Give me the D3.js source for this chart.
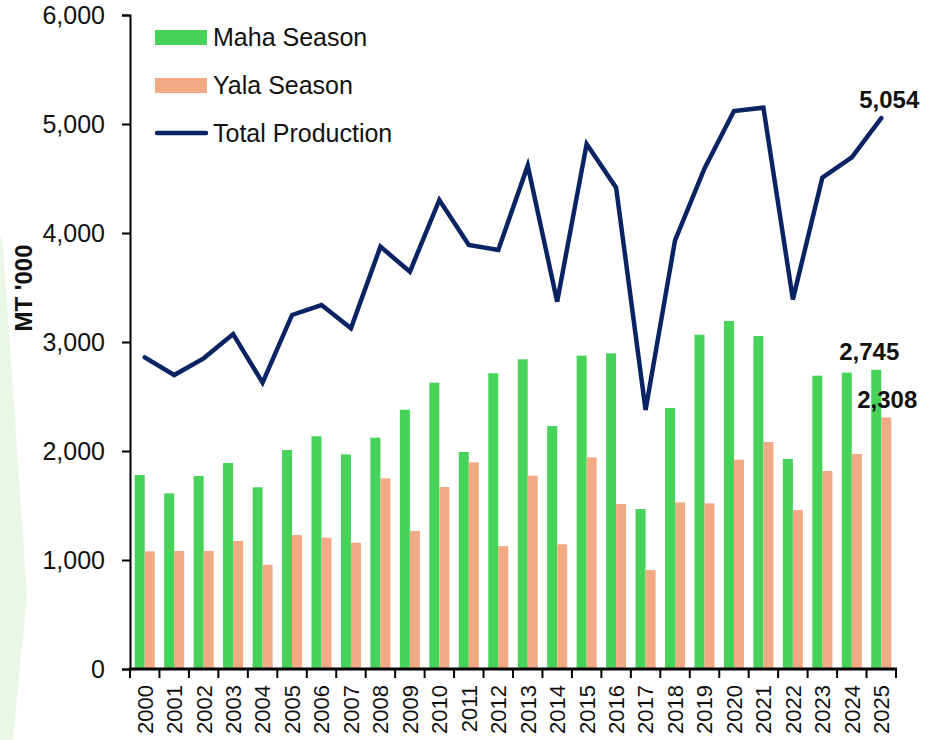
<!DOCTYPE html>
<html>
<head>
<meta charset="utf-8">
<script src="https://cdn.jsdelivr.net/npm/d3@7"></script>
<style>
  body { margin: 0; background: #fff; }
  svg { display: block; font-family: "Liberation Sans", Arial, sans-serif; }
</style>
</head>
<body>
<div id="chart"></div>
<script>
// data (MT '000)
var years = ["2000","2001","2002","2003","2004","2005","2006","2007","2008","2009",
  "2010","2011","2012","2013","2014","2015","2016","2017","2018","2019",
  "2020","2021","2022","2023","2024","2025"];
var maha = [1780,1612,1771,1890,1667,2009,2135,1969,2122,2379,
  2627,1991,2713,2841,2229,2875,2896,1468,2395,3067,
  3193,3055,1927,2691,2719,2745];
var yala = [1080,1083,1083,1174,957,1229,1205,1159,1749,1266,
  1670,1896,1128,1774,1144,1942,1514,908,1529,1520,
  1920,2083,1459,1817,1972,2308];
var total = [2859,2697,2850,3073,2627,3248,3339,3125,3875,3645,
  4303,3890,3844,4618,3370,4817,4416,2376,3932,4593,
  5119,5150,3391,4508,4694,5054];
var yTicks = [0,1000,2000,3000,4000,5000,6000];
var seriesNames = ["Maha Season","Yala Season","Total Production"];

var width = 925, height = 740;
var colors = { maha: "#47d35a", yala: "#f2aa85", total: "#0a2463" };

var svg = d3.select("#chart").append("svg")
  .attr("width", width)
  .attr("height", height);

// faint decoration on the left edge
svg.append("polygon")
  .attr("points", "0,235 3,245 27,595 13,740 0,740")
  .attr("fill", "#eaf6e6");

var x = d3.scaleBand().domain(years).range([130, 896]).padding(0);
var xs = d3.scaleBand().domain(["maha","yala"]).range([0, x.bandwidth()])
  .paddingInner(0).paddingOuter(0.47);
var y = d3.scaleLinear().domain([0, 6000]).range([669, 15]);

var rows = years.map(function(yr, i) {
  return { year: yr, maha: maha[i], yala: yala[i], total: total[i] };
});

// bars
var groups = svg.append("g").selectAll("g")
  .data(rows)
  .enter().append("g")
  .attr("transform", d => `translate(${x(d.year)},0)`);

["maha","yala"].forEach(function(key) {
  groups.append("rect")
    .attr("x", xs(key))
    .attr("width", xs.bandwidth())
    .attr("y", d => y(d[key]))
    .attr("height", d => y(0) - y(d[key]))
    .attr("fill", colors[key]);
});

// total line
var line = d3.line()
  .x(d => x(d.year) + x.bandwidth() / 2)
  .y(d => y(d.total));

svg.append("path")
  .datum(rows)
  .attr("d", line)
  .attr("fill", "none")
  .attr("stroke", colors.total)
  .attr("stroke-width", 4.5)
  .attr("stroke-linejoin", "miter")
  .attr("stroke-linecap", "round");

// y axis
var yAxis = d3.axisLeft(y)
  .tickValues(yTicks)
  .tickFormat(d3.format(","))
  .tickSize(8)
  .tickPadding(17);

var yg = svg.append("g")
  .attr("transform", "translate(130,0)")
  .call(yAxis);
yg.select(".domain").attr("stroke", "#000").attr("stroke-width", 2);
yg.selectAll(".tick line").attr("stroke", "#000").attr("stroke-width", 2);
yg.selectAll(".tick text")
  .attr("font-family", "Liberation Sans, Arial, sans-serif")
  .attr("font-size", 25)
  .attr("fill", "#111");

// x axis: baseline + ticks at category boundaries
var xg = svg.append("g");
xg.append("line")
  .attr("x1", x.range()[0] - 1).attr("x2", x.range()[1] + 1)
  .attr("y1", y(0)).attr("y2", y(0))
  .attr("stroke", "#000").attr("stroke-width", 3);

var bounds = years.map(d => x(d)).concat([x.range()[1]]);
xg.selectAll("line.tk")
  .data(bounds)
  .enter().append("line")
  .attr("class", "tk")
  .attr("x1", d => d).attr("x2", d => d)
  .attr("y1", y(0)).attr("y2", y(0) + 9)
  .attr("stroke", "#000").attr("stroke-width", 2);

xg.selectAll("text")
  .data(years)
  .enter().append("text")
  .attr("transform", d => `translate(${x(d) + x.bandwidth() / 2},685) rotate(-90)`)
  .attr("dy", "0.36em")
  .attr("text-anchor", "end")
  .attr("font-size", 22)
  .attr("fill", "#111")
  .text(d => d);

// y axis title
svg.append("text")
  .attr("transform", "translate(32,288) rotate(-90)")
  .attr("text-anchor", "middle")
  .attr("font-size", 24)
  .attr("font-weight", "bold")
  .attr("fill", "#111")
  .text("MT '000");

// data labels on the last year
var last = rows[rows.length - 1];
var cx = x(last.year);
var fmt = d3.format(",");
svg.append("text")
  .attr("x", cx + x.bandwidth() / 2 + 8)
  .attr("y", y(last.total) - 10)
  .attr("text-anchor", "middle")
  .attr("font-size", 24).attr("font-weight", "bold").attr("fill", "#111")
  .text(fmt(last.total));
svg.append("text")
  .attr("x", cx + xs("maha") + xs.bandwidth() / 2 - 7)
  .attr("y", y(last.maha) - 10)
  .attr("text-anchor", "middle")
  .attr("font-size", 24).attr("font-weight", "bold").attr("fill", "#111")
  .text(fmt(last.maha));
svg.append("text")
  .attr("x", cx + xs("yala") + xs.bandwidth() / 2 + 1)
  .attr("y", y(last.yala) - 9)
  .attr("text-anchor", "middle")
  .attr("font-size", 24).attr("font-weight", "bold").attr("fill", "#111")
  .text(fmt(last.yala));

// legend
var legend = svg.append("g").attr("transform", "translate(155,0)");
var legendY = [37, 85, 133];
legend.append("rect").attr("x", 0).attr("y", 30).attr("width", 52).attr("height", 15)
  .attr("fill", colors.maha);
legend.append("rect").attr("x", 0).attr("y", 78).attr("width", 52).attr("height", 15)
  .attr("fill", colors.yala);
legend.append("line").attr("x1", 2).attr("x2", 51).attr("y1", 133).attr("y2", 133)
  .attr("stroke", colors.total).attr("stroke-width", 4.5).attr("stroke-linecap", "round");
legend.selectAll("text")
  .data(seriesNames)
  .enter().append("text")
  .attr("x", 58)
  .attr("y", (d, i) => legendY[i] + 9)
  .attr("font-size", 25)
  .attr("fill", "#111")
  .text(d => d);
</script>
</body>
</html>
